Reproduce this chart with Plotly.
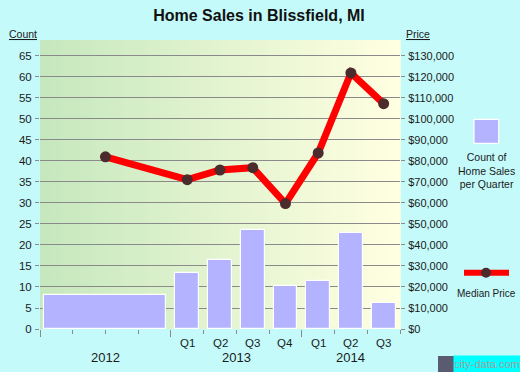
import plotly.graph_objects as go

# ---- data ----
period_labels = ["2012", "Q1", "Q2", "Q3", "Q4", "Q1", "Q2", "Q3"]
period_quarters = [4, 1, 1, 1, 1, 1, 1, 1]          # length of each period in quarters
sales_count = [8.0, 13.3, 16.4, 23.6, 10.2, 11.4, 22.8, 6.2]
median_price = [82000, 71100, 75700, 76800, 59700, 83800, 121900, 107300]
year_labels = ["2012", "2013", "2014"]
year_start_q = [0, 4, 8]
year_quarters = [4, 4, 3]
count_ticks = list(range(0, 70, 5))
price_ticks = list(range(0, 140000, 10000))

# ---- derived positions ----
starts = []
s = 0
for n in period_quarters:
    starts.append(s)
    s += n
total_q = s
centers = [st + n / 2 for st, n in zip(starts, period_quarters)]
gap = 0.27
widths = [n - gap for n in period_quarters]
q_idx = [i for i, n in enumerate(period_quarters) if n == 1]
year_centers = [st + n / 2 for st, n in zip(year_start_q, year_quarters)]

FONT = "Liberation Sans, Arial, sans-serif"
TXT = "#1a1a1a"
GRID = "#8a8a8a"
CYAN = "rgb(197,250,250)"

W, H = 520, 372
ML, MR, MT, MB = 40, 120, 40, 43
PW, PH = W - ML - MR, H - MT - MB
ymax = 68.8


def px(xp):
    return (xp - ML) / PW


def py(yp):
    return (H - MB - yp) / PH


fig = go.Figure()
fig.add_trace(go.Bar(
    x=centers, y=sales_count, width=widths,
    marker=dict(color="#b3b3ff", line=dict(color="white", width=1.2)),
    hoverinfo="skip", showlegend=False,
))
fig.add_trace(go.Scatter(
    x=centers[:len(median_price)], y=median_price, yaxis="y2", mode="lines+markers",
    line=dict(color="#ff0000", width=7),
    marker=dict(color="#4b2b2b", size=11),
    showlegend=False,
))

# gradient background strips
shapes = []
nstrips = 72
c0 = (198, 232, 190)
c1 = (255, 255, 225)
for i in range(nstrips):
    t = i / (nstrips - 1)
    col = tuple(round(a + (b - a) * t) for a, b in zip(c0, c1))
    shapes.append(dict(type="rect", xref="paper", yref="paper",
                       x0=i / nstrips, x1=(i + 1) / nstrips + 0.002, y0=0, y1=1,
                       fillcolor="rgb(%d,%d,%d)" % col, line=dict(width=0), layer="below"))

# legend swatches
shapes.append(dict(type="rect", xref="paper", yref="paper",
                   x0=px(474), x1=px(498.7), y0=py(143.3), y1=py(119.3),
                   fillcolor="#b3b3ff", line=dict(color="white", width=1.2)))
shapes.append(dict(type="line", xref="paper", yref="paper",
                   x0=px(464), x1=px(509), y0=py(272.7), y1=py(272.7),
                   line=dict(color="#ff0000", width=6)))
shapes.append(dict(type="circle", xref="paper", yref="paper",
                   x0=px(486 - 5), x1=px(486 + 5), y0=py(272.7 + 5), y1=py(272.7 - 5),
                   fillcolor="#4b2b2b", line=dict(width=0)))
# watermark icon
shapes.append(dict(type="rect", xref="paper", yref="paper",
                   x0=px(438), x1=px(454), y0=py(372), y1=py(356),
                   fillcolor="#5a5a70", line=dict(width=0)))


def ann(x, y, text, size, xref="paper", color=TXT, **kw):
    return dict(x=x, y=y, xref=xref, yref="paper", text=text, showarrow=False,
                xanchor="center", yanchor="middle",
                font=dict(family=FONT, size=size, color=color), **kw)


annotations = []
for i in q_idx:
    annotations.append(ann(centers[i], py(343), period_labels[i], 11.5, xref="x"))
for xc, lab in zip(year_centers, year_labels):
    annotations.append(ann(xc, py(357.5), lab, 13, xref="x"))
annotations += [
    ann(px(22.5), py(34), "<u>Count</u>", 10.5),
    ann(px(418), py(34), "<u>Price</u>", 10.5),
    ann(px(486.5), py(170), "Count of<br>Home Sales<br>per Quarter", 10.5),
    ann(px(486.5), py(293), "Median Price", 10),
    ann(px(487), py(364), "city-data.com", 11, color="#a0a0a0",
        bgcolor="#00ffff", width=64, height=14),
]

fig.update_layout(
    width=W, height=H,
    margin=dict(l=ML, r=MR, t=MT, b=MB, pad=0),
    paper_bgcolor=CYAN, plot_bgcolor="rgb(240,248,215)",
    title=dict(text="<b>Home Sales in Blissfield, MI</b>", x=259 / W, xanchor="center",
               y=1 - 15 / H, yanchor="middle",
               font=dict(family=FONT, size=16, color="#111")),
    xaxis=dict(range=[0, total_q], showgrid=False, zeroline=False,
               tickvals=year_start_q, ticktext=["" for _ in year_start_q],
               ticks="outside", ticklen=7, tickcolor=GRID, tickwidth=1,
               minor=dict(tickvals=[q for q in range(total_q + 1) if q not in year_start_q],
                          ticks="outside", ticklen=4, tickcolor=GRID, tickwidth=1),
               showline=False, fixedrange=True),
    yaxis=dict(range=[0, ymax], tickvals=count_ticks, ticks="outside", ticklen=4,
               tickcolor=GRID, gridcolor=GRID, gridwidth=1, zeroline=False,
               showline=False, ticklabelstandoff=1,
               tickfont=dict(family=FONT, size=11.5, color=TXT)),
    yaxis2=dict(range=[0, ymax * 2000], overlaying="y", side="right",
                tickvals=price_ticks,
                ticktext=["$" + format(v, ",") for v in price_ticks],
                ticks="outside", ticklen=4, tickcolor=GRID, showgrid=False,
                zeroline=False, showline=False, ticklabelstandoff=1,
                tickfont=dict(family=FONT, size=11, color=TXT)),
    shapes=shapes, annotations=annotations,
    bargap=0,
)

fig.write_html("out.html", config={"displayModeBar": False},
               post_script="document.body.style.margin='0';document.body.style.overflow='hidden';")
